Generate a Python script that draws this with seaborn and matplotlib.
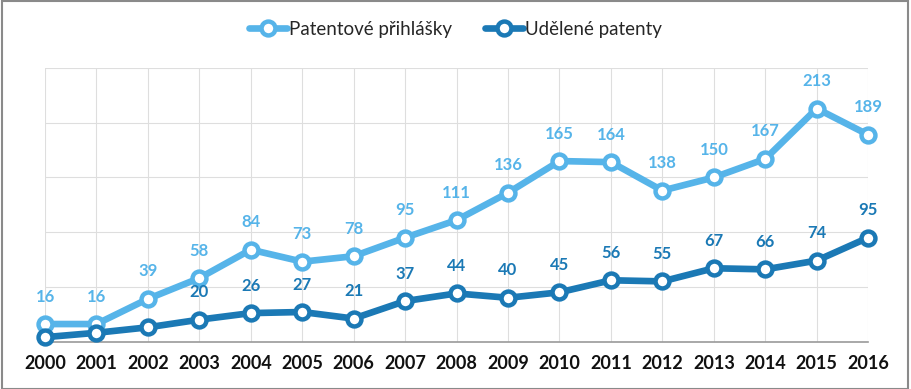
import matplotlib
matplotlib.use("Agg")
import matplotlib.pyplot as plt
import seaborn as sns
import pandas as pd
from matplotlib.patches import Rectangle

years = list(range(2000, 2017))
prihlasky = [16, 16, 39, 58, 84, 73, 78, 95, 111, 136, 165, 164, 138, 150, 167, 213, 189]
udelene = [4, 8, 13, 20, 26, 27, 21, 37, 44, 40, 45, 56, 55, 67, 66, 74, 95]
udelene_labels = [None, None, None, 20, 26, 27, 21, 37, 44, 40, 45, 56, 55, 67, 66, 74, 95]
series_names = ["Patentové přihlášky", "Udělené patenty"]
colors = ["#56b4e9", "#1b79b5"]

sns.set_style("white")
plt.rcParams["font.family"] = ["Lato", "DejaVu Sans"]

df = pd.DataFrame({
    "rok": years * 2,
    "hodnota": prihlasky + udelene,
    "rada": [series_names[0]] * len(years) + [series_names[1]] * len(years),
})

fig = plt.figure(figsize=(9.11, 3.89), dpi=100)
ax = fig.add_axes([0.0494, 0.122, 0.9036, 0.703])

sns.lineplot(data=df, x="rok", y="hodnota", hue="rada", palette=colors, ax=ax,
             linewidth=4.8, marker="o", markersize=10, markerfacecolor="white",
             markeredgewidth=3.2, clip_on=False, zorder=3)
for line, c in zip(ax.get_lines(), colors):
    line.set_markeredgecolor(c)
    line.set_clip_on(False)

ax.set_xlim(2000, 2016)
ax.set_ylim(0, 250)
ax.set_xticks(years)
ax.set_xticklabels([str(y) for y in years], fontsize=13, fontweight="bold", color="#111111")
ax.set_yticks([50, 100, 150, 200, 250])
ax.set_yticklabels([])
ax.tick_params(axis="both", length=0, pad=10)
ax.grid(True, color="#dedede", linewidth=0.8)
ax.set_xlabel("")
ax.set_ylabel("")
for s in ["top", "right", "left"]:
    ax.spines[s].set_visible(False)
ax.spines["bottom"].set_color("#9a9a9a")
ax.spines["bottom"].set_linewidth(1.2)

for x, v in zip(years, prihlasky):
    ax.annotate(str(v), (x, v), xytext=(0, 14), textcoords="offset points",
                ha="center", va="bottom", fontsize=12, fontweight="bold", color=colors[0])
for x, v, lab in zip(years, udelene, udelene_labels):
    if lab is not None:
        ax.annotate(str(lab), (x, v), xytext=(0, 14), textcoords="offset points",
                    ha="center", va="bottom", fontsize=12, fontweight="bold", color=colors[1])

handles, labels = ax.get_legend_handles_labels()
for h, c in zip(handles, colors):
    h.set_markeredgecolor(c)
    h.set_markerfacecolor("white")
ax.legend(handles, labels, loc="center", bbox_to_anchor=(0.5, 0.925), bbox_transform=fig.transFigure,
          ncol=2, frameon=False, fontsize=13.5, handlelength=2.0, handletextpad=0.1,
          columnspacing=1.8)

fig.patches.append(Rectangle((0.002, 0.0), 0.995, 0.997, transform=fig.transFigure,
                             fill=False, edgecolor="#8a8a8a", linewidth=1.5))

fig.savefig("out.png", dpi=100)
